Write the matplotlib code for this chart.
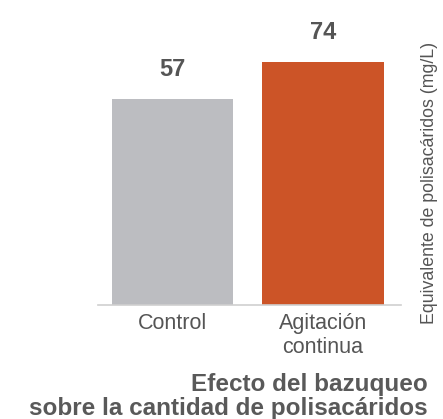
import matplotlib
matplotlib.use("Agg")
import matplotlib.pyplot as plt
import numpy as np

categories = ["Control", "Agitación\ncontinua"]
values = [57, 74]
colors = ["#bcbdc1", "#cc5427"]
ylabel = "Equivalente de polisacáridos (mg/L)"
title = "Efecto del bazuqueo\nsobre la cantidad de polisacáridos"

plt.rcParams['font.family'] = ['Liberation Sans', 'DejaVu Sans']

W, H = 443, 419
fig = plt.figure(figsize=(W / 100, H / 100), dpi=100)
fig.patch.set_facecolor("white")

left, right, bottom, top = 98, 401, 304.5, 20
ax = fig.add_axes([left / W, 1 - bottom / H, (right - left) / W, (bottom - top) / H])

Y0 = -38.5
scale = 2.153  # px per unit
ymax = Y0 + (bottom - top) / scale

x = np.arange(len(categories))
vals = np.array(values, dtype=float)
bars = ax.bar(x, vals - Y0, bottom=Y0, width=0.807, color=colors, zorder=2)

ax.set_ylim(Y0, ymax)
ax.set_xlim(-0.494, 1.519)

for xi, v in zip(x, values):
    ax.annotate(f"{v}", xy=(xi, v), xytext=(0, 16.5), textcoords="offset points",
                ha="center", va="baseline", fontsize=17, fontweight="bold",
                color="#555555")

for s in ["top", "right", "left"]:
    ax.spines[s].set_visible(False)
ax.spines["bottom"].set_color("#cfcfcf")
ax.spines["bottom"].set_linewidth(1.2)
ax.set_yticks([])
ax.set_xticks(x)
ax.set_xticklabels(categories, fontsize=15.5, color="#555555", linespacing=1.2)
ax.tick_params(axis="x", length=0, pad=6)

fig.text(430 / W, 1 - 182.5 / H, ylabel, rotation=90, ha="center", va="center",
         fontsize=12.8, color="#555555")

fig.text(428 / W, 4 / H, title, ha="right", va="baseline", multialignment="right",
         fontsize=17.5, fontweight="bold", color="#595959", linespacing=1.03)

fig.savefig("out.png", dpi=100)
